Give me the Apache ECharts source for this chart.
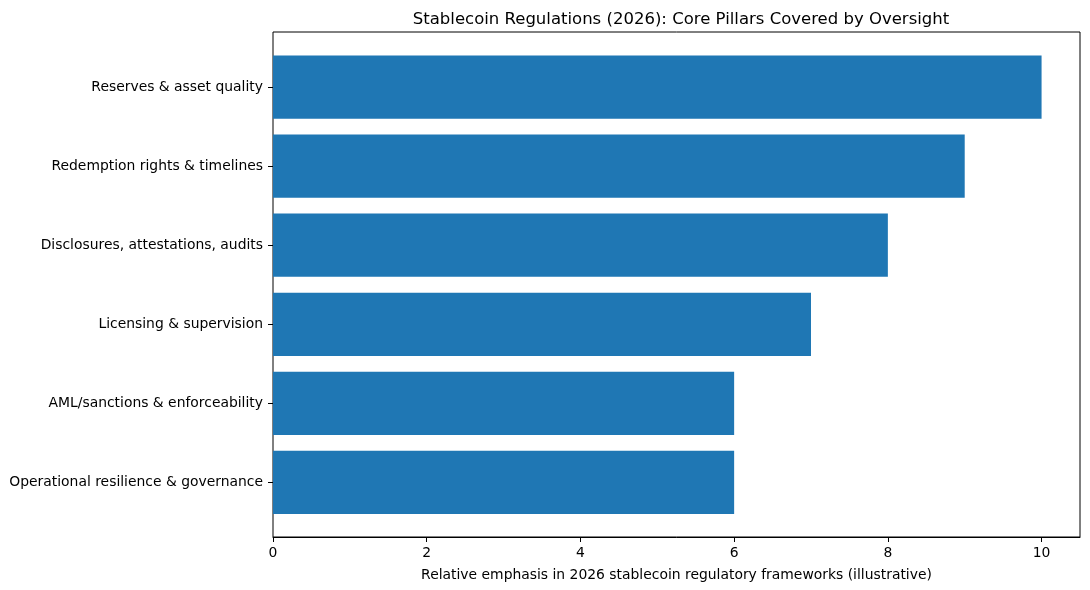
<!DOCTYPE html>
<html lang="en">
<head>
    <meta charset="UTF-8">
    <title>Stablecoin Regulations (2026)</title>
    <script src="https://cdn.jsdelivr.net/npm/echarts@6/dist/echarts.min.js"></script>
    <style>
        body { margin: 0; background: #fff; }
        #main { width: 1090px; height: 590px; }
    </style>
</head>
<body>
<div id="main"></div>
<script>
    // data (top to bottom)
    var categories = [
        'Reserves & asset quality',
        'Redemption rights & timelines',
        'Disclosures, attestations, audits',
        'Licensing & supervision',
        'AML/sanctions & enforceability',
        'Operational resilience & governance'
    ];
    var emphasis = [10, 9, 8, 7, 6, 6];
    var xTicks = [0, 2, 4, 6, 8, 10];

    var font = 'DejaVu Sans';
    var chart = echarts.init(document.getElementById('main'));

    var option = {
        animation: false,
        backgroundColor: '#fff',
        textStyle: { fontFamily: font },
        title: {
            text: 'Stablecoin Regulations (2026): Core Pillars Covered by Oversight',
            left: 676,
            textAlign: 'center',
            top: 6,
            textStyle: { fontFamily: font, fontSize: 16.5, fontWeight: 'normal', color: '#000' }
        },
        grid: [
            // frame + x axis
            { left: 273, right: 10, top: 32, height: 505, show: true, borderColor: '#000', borderWidth: 1, containLabel: false },
            // bars (matplotlib-like margins inside the frame)
            { left: 273, right: 10, top: 47.5, height: 474.5, containLabel: false }
        ],
        xAxis: [
            {
                gridIndex: 0,
                type: 'value',
                min: 0,
                max: 10.5,
                interval: 2,
                name: 'Relative emphasis in 2026 stablecoin regulatory frameworks (illustrative)',
                nameLocation: 'middle',
                nameGap: 31,
                nameTextStyle: { fontFamily: font, fontSize: 13.9, color: '#000' },
                splitLine: { show: false },
                axisLine: { show: true, lineStyle: { color: '#000', width: 1 } },
                axisTick: { show: true, length: 5, customValues: xTicks, lineStyle: { color: '#000' } },
                axisLabel: {
                    fontFamily: font, fontSize: 13.9, color: '#000', margin: 9,
                    customValues: xTicks
                }
            },
            { gridIndex: 1, type: 'value', min: 0, max: 10.5, show: false }
        ],
        yAxis: [
            { gridIndex: 0, type: 'value', min: 0, max: 1, show: false },
            {
                gridIndex: 1,
                type: 'category',
                inverse: true,
                data: categories,
                axisLine: { show: false },
                axisTick: { show: true, alignWithLabel: true, length: 5, lineStyle: { color: '#000' } },
                axisLabel: { fontFamily: font, fontSize: 13.9, color: '#000', margin: 10 },
                splitLine: { show: false }
            }
        ],
        series: [
            {
                type: 'bar',
                xAxisIndex: 1,
                yAxisIndex: 1,
                data: emphasis,
                barWidth: '80%',
                itemStyle: { color: '#1f77b4' }
            },
            {
                type: 'line',
                xAxisIndex: 0,
                yAxisIndex: 0,
                data: [],
                silent: true
            }
        ]
    };

    chart.setOption(option);
</script>
</body>
</html>
